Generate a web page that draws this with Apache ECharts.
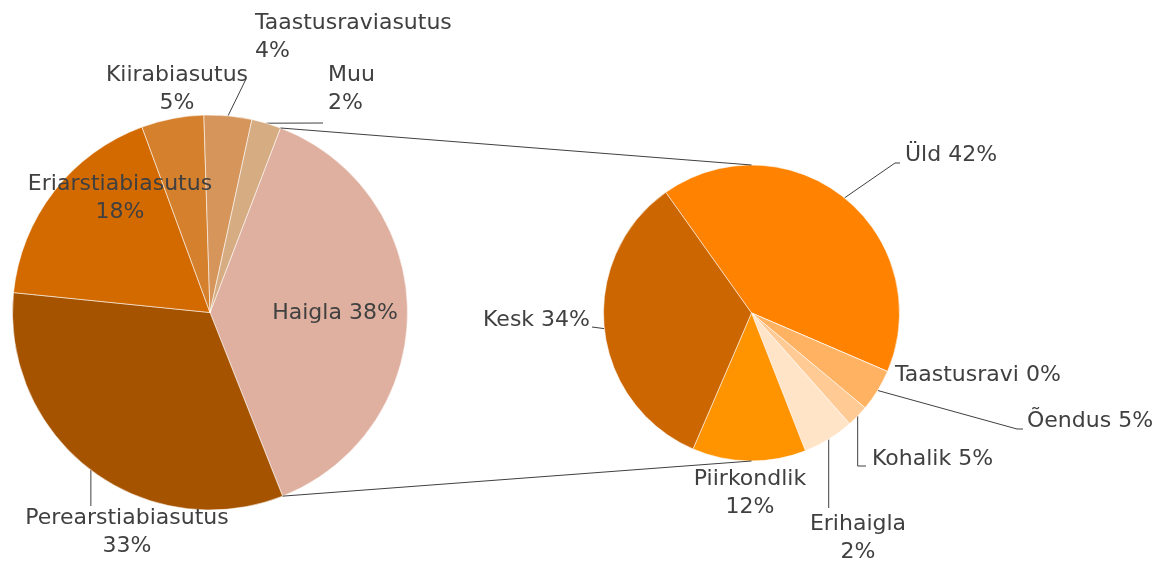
<!DOCTYPE html>
<html><head><meta charset="utf-8">
<script src="https://cdn.jsdelivr.net/npm/echarts@6/dist/echarts.min.js"></script>
<style>html,body{margin:0;padding:0;background:#fff}#c{width:1167px;height:563px}</style>
</head><body><div id="c"></div>
<script>
// ---- data ----
const leftNames = ['Haigla','Perearstiabiasutus','Eriarstiabiasutus','Kiirabiasutus','Taastusraviasutus','Muu'];
const leftValues = [38.2, 32.6, 17.8, 5.1, 3.9, 2.4];
const leftPct = ['38%','33%','18%','5%','4%','2%'];
const rightNames = ['Üld','Taastusravi','Õendus','Kohalik','Erihaigla','Piirkondlik','Kesk'];
const rightValues = [41.3, 0, 4.6, 2.4, 5.6, 12.4, 33.7];
const rightPct = ['42%','0%','5%','5%','2%','12%','34%'];

// ---- style / layout ----
const leftColors = ['#DFB09F','#A65300','#D36A00','#D5802D','#D6955A','#D6AC82'];
const rightColors = ['#FF8200','#FFA040','#FFB262','#FFCA94','#FFE4C8','#FF9300','#CC6600'];
const L = {cx:210, cy:312.5, r:197.5, start:69.1};
const R = {cx:751.5, cy:313, r:148, start:125.4};
const textColor = '#404040';
const fontFamily = 'DejaVu Sans';
const fontSize = 22;
const lineH = 28;

// label placement (x,y anchor; align; break into two lines; leader-line bend points)
const leftLab = [
  {x:335, y:313, align:'center', br:false, line:null},
  {x:127, y:532, align:'center', br:true, line:'v', end:506},
  {x:120, y:198, align:'center', br:true, line:null},
  {x:177, y:89, align:'center', br:true, line:null},
  {x:255, y:37, align:'left', br:true, line:[[246,79]]},
  {x:328, y:89, align:'left', br:true, line:[[323,123]]}
];
const rightLab = [
  {x:905, y:155, align:'left', br:false, line:[[895,163],[900,163]]},
  {x:895, y:375, align:'left', br:false, line:null},
  {x:1027, y:421, align:'left', br:false, line:[[1017,429],[1023,429]]},
  {x:872, y:459, align:'left', br:false, line:'vh', end:466, endX:866},
  {x:858, y:538, align:'center', br:true, line:'v', end:508},
  {x:750, y:493, align:'center', br:true, line:null},
  {x:590, y:320, align:'right', br:false, line:[[592,327]]}
];

function edgePt(c, ang) {
  const a = ang * Math.PI / 180;
  return [c.cx + c.r * Math.sin(a), c.cy - c.r * Math.cos(a)];
}
function midAngles(c, vals) {
  const tot = vals.reduce((a, b) => a + b, 0);
  let acc = 90 - c.start;
  return vals.map(v => { const m = acc + 180 * v / tot; acc += 360 * v / tot; return m; });
}
const leftMid = midAngles(L, leftValues);
const rightMid = midAngles(R, rightValues);

function makeLayout(c, mids, labs) {
  return function (p) {
    const s = labs[p.dataIndex];
    const out = {x: s.x, y: s.y, align: s.align, verticalAlign: 'middle'};
    if (s.line) {
      const e = edgePt(c, mids[p.dataIndex]);
      let pts;
      if (s.line === 'v') pts = [e, [e[0], s.end], [e[0], s.end]];
      else if (s.line === 'vh') pts = [e, [e[0], s.end], [s.endX, s.end]];
      else pts = [e].concat(s.line);
      if (pts.length < 3) pts.push(pts[pts.length - 1]);
      out.labelLinePoints = pts;
    }
    return out;
  };
}

function buildData(names, vals, pcts, cols, labs) {
  return names.map((n, i) => ({
    name: n, value: vals[i],
    itemStyle: {color: cols[i]},
    label: {formatter: n + (labs[i].br ? '\n' : ' ') + pcts[i], align: labs[i].align},
    labelLine: {show: !!labs[i].line}
  }));
}

const labelBase = {show: true, position: 'outside', color: textColor, fontFamily, fontSize, lineHeight: lineH};
const lineBase = {show: true, length: 10, length2: 10, smooth: false, lineStyle: {color: textColor, width: 1}};

const tot = leftValues.reduce((a, b) => a + b, 0);
const a0 = 90 - L.start, a1 = a0 + 360 * leftValues[0] / tot;
const p0 = edgePt(L, a0), p1 = edgePt(L, a1);

const chart = echarts.init(document.getElementById('c'), null, {renderer: 'canvas'});
chart.setOption({
  backgroundColor: '#fff',
  animation: false,
  series: [
    {
      type: 'pie', center: [L.cx, L.cy], radius: L.r, startAngle: L.start,
      avoidLabelOverlap: false, silent: true,
      itemStyle: {borderColor: 'rgba(255,255,255,0.55)', borderWidth: 1},
      label: labelBase, labelLine: lineBase,
      labelLayout: makeLayout(L, leftMid, leftLab),
      data: buildData(leftNames, leftValues, leftPct, leftColors, leftLab)
    },
    {
      type: 'pie', center: [R.cx, R.cy], radius: R.r, startAngle: R.start,
      avoidLabelOverlap: false, silent: true,
      itemStyle: {borderColor: 'rgba(255,255,255,0.55)', borderWidth: 1},
      label: labelBase, labelLine: lineBase,
      labelLayout: makeLayout(R, rightMid, rightLab),
      data: buildData(rightNames, rightValues, rightPct, rightColors, rightLab)
    }
  ],
  graphic: [
    {type: 'line', z: 100, shape: {x1: p0[0], y1: p0[1], x2: R.cx, y2: R.cy - R.r}, style: {stroke: textColor, lineWidth: 1}},
    {type: 'line', z: 100, shape: {x1: p1[0], y1: p1[1], x2: R.cx, y2: R.cy + R.r}, style: {stroke: textColor, lineWidth: 1}}
  ]
});
</script>
</body></html>
